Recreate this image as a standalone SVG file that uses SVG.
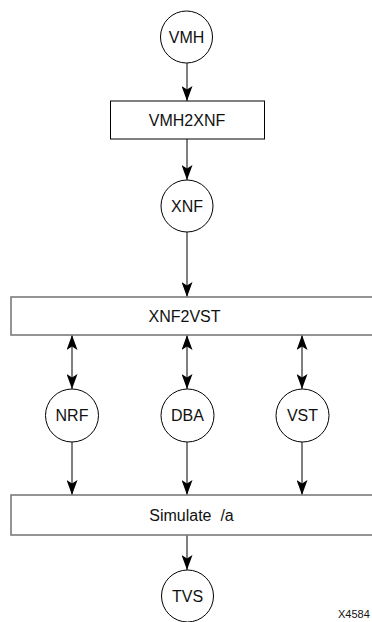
<svg xmlns="http://www.w3.org/2000/svg" width="372" height="622" viewBox="0 0 372 622">
  <style>
    .node circle { fill: #ffffff; stroke: #000000; stroke-width: 1; }
    .box { fill: #ffffff; stroke: #000000; stroke-width: 1; }
    .box.wide { stroke: #7a7a7a; stroke-width: 1.6; }
    .lbl { font-family: "Liberation Sans", Arial, sans-serif; font-size: 16px; fill: #111111; text-anchor: middle; }
    .tag { font-family: "Liberation Sans", Arial, sans-serif; font-size: 11px; fill: #111111; }
    #connectors line { stroke: #000000; stroke-width: 1; fill: none; }
    .one { marker-end: url(#arrow); }
    .two { marker-start: url(#arrow); marker-end: url(#arrow); }
  </style>
  <defs>
    <marker id="arrow" viewBox="0 0 15 11" refX="15" refY="5.5" markerWidth="15" markerHeight="11" markerUnits="userSpaceOnUse" orient="auto-start-reverse">
      <path d="M0,0 L15,5.5 L0,11 L3.5,5.5 Z" fill="#000000"/>
    </marker>
  </defs>

  <rect width="372" height="622" fill="#ffffff"/>

  <!-- connectors -->
  <g id="connectors">
    <line class="one" x1="187" y1="63" x2="187" y2="101"/>
    <line class="one" x1="187" y1="139" x2="187" y2="180"/>
    <line class="one" x1="187" y1="232" x2="187" y2="297"/>
    <line class="two" x1="72" y1="335" x2="72" y2="389"/>
    <line class="two" x1="187" y1="335" x2="187" y2="389"/>
    <line class="two" x1="302" y1="335" x2="302" y2="389"/>
    <line class="one" x1="72" y1="442" x2="72" y2="495"/>
    <line class="one" x1="187" y1="442" x2="187" y2="495"/>
    <line class="one" x1="302" y1="442" x2="302" y2="495"/>
    <line class="one" x1="187" y1="535" x2="187" y2="570"/>
  </g>

  <!-- nodes -->
  <g id="vmh" class="node">
    <circle cx="186.5" cy="37" r="26"/>
    <text class="lbl" x="186.5" y="42.5">VMH</text>
  </g>
  <g id="vmh2xnf">
    <rect class="box" x="110.5" y="101" width="154" height="38"/>
    <text class="lbl" x="187" y="125.5">VMH2XNF</text>
  </g>
  <g id="xnf" class="node">
    <circle cx="187" cy="206" r="26"/>
    <text class="lbl" x="187" y="211.5">XNF</text>
  </g>
  <g id="xnf2vst">
    <rect class="box wide" x="11" y="297" width="370" height="38"/>
    <text class="lbl" x="184.5" y="321.5">XNF2VST</text>
  </g>
  <g id="nrf" class="node">
    <circle cx="72" cy="415.5" r="26.5"/>
    <text class="lbl" x="72" y="421">NRF</text>
  </g>
  <g id="dba" class="node">
    <circle cx="187.5" cy="415.5" r="26.5"/>
    <text class="lbl" x="187.5" y="421">DBA</text>
  </g>
  <g id="vst" class="node">
    <circle cx="302.5" cy="415.5" r="26.5"/>
    <text class="lbl" x="302.5" y="421">VST</text>
  </g>
  <g id="simulate">
    <rect class="box wide" x="11" y="495" width="370" height="40"/>
    <text class="lbl" x="191.5" y="521" xml:space="preserve">Simulate  /a</text>
  </g>
  <g id="tvs" class="node">
    <circle cx="187.5" cy="596" r="26"/>
    <text class="lbl" x="187.5" y="601.5">TVS</text>
  </g>

  <!-- figure number -->
  <text class="tag" x="338" y="618">X4584</text>
</svg>
